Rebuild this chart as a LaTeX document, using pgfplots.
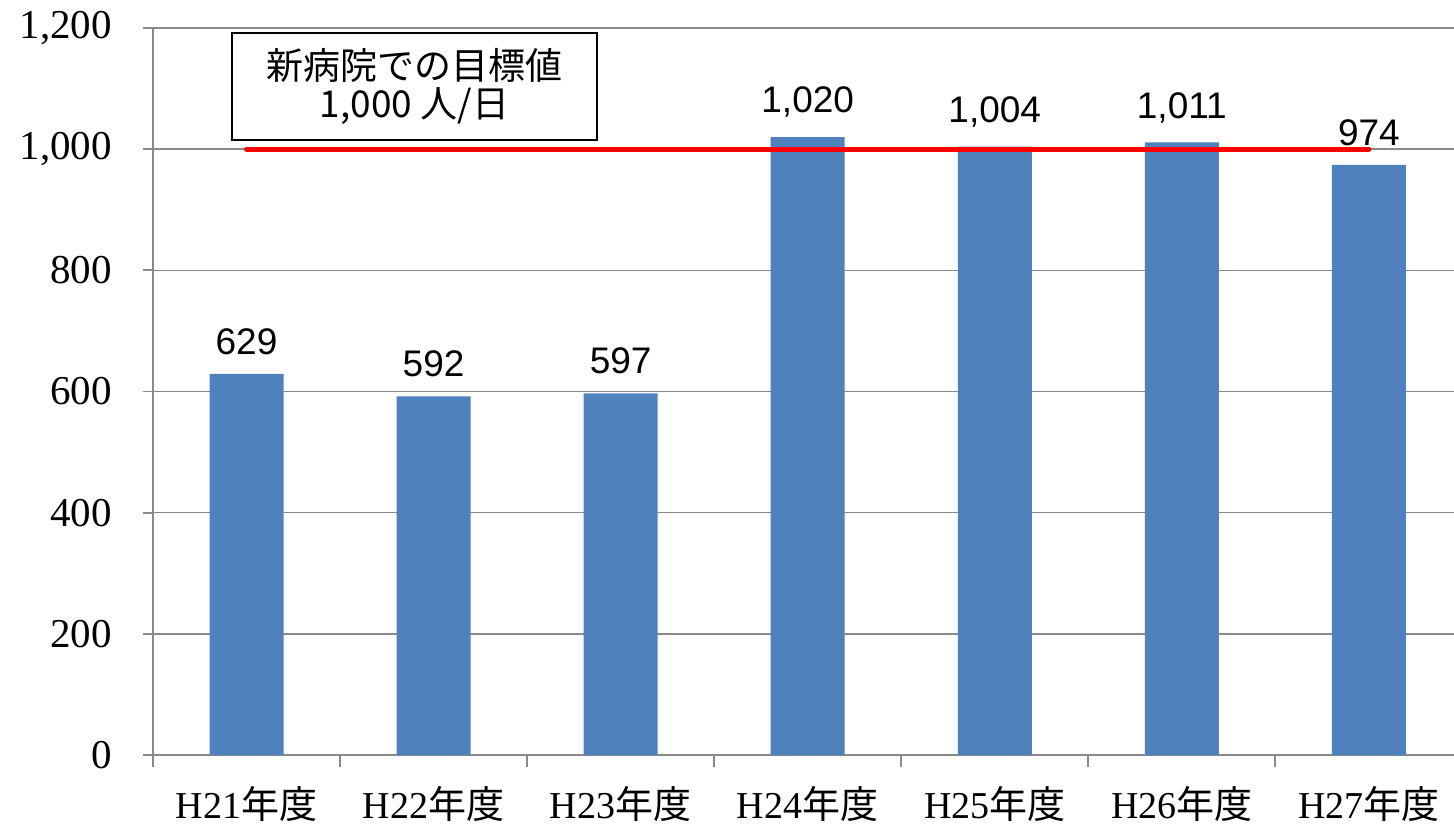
\documentclass[border=0pt]{standalone}
\usepackage{fontspec}
\setmainfont{Liberation Serif}
\setsansfont{Liberation Sans}
\newfontfamily\cjk{Noto Sans CJK JP}
\usepackage{pgfplots}
\pgfplotsset{compat=1.18}
\definecolor{barblue}{HTML}{4F81BD}
\definecolor{gridgray}{HTML}{898989}
\begin{document}
\begin{tikzpicture}
\begin{axis}[
  scale only axis, width=650.5pt, height=363.5pt,
  at={(0,0)}, anchor=south west,
  xmin=-0.5, xmax=6.455, ymin=0, ymax=1200,
  ytick={0,200,...,1200},
  xtick={0,...,6},
  xticklabels={H21{\cjk 年度},H22{\cjk 年度},H23{\cjk 年度},H24{\cjk 年度},H25{\cjk 年度},H26{\cjk 年度},H27{\cjk 年度}},
  minor xtick={-0.5,0.5,...,5.5},
  major x tick style={draw=none},
  tick align=outside,
  major tick length=5pt, minor tick length=6pt,
  every tick/.style={gridgray, line width=0.9pt},
  ymajorgrids, grid style={gridgray, line width=0.75pt},
  axis x line*=bottom, axis y line*=left,
  axis line style={gridgray, line width=0.9pt},
  /pgf/number format/1000 sep={,},
  /pgf/number format/assume math mode=true,
  yticklabel style={font=\fontsize{20.5}{22}\selectfont, xshift=-12pt},
  xticklabel style={font=\fontsize{19}{21}\selectfont, yshift=-7pt},
  clip=false
]
\addplot[ybar, bar width=37pt, fill=barblue, draw=none,
  nodes near coords,
  every node near coord/.append style={font=\sffamily\fontsize{18.5}{20}\selectfont, text=black, inner sep=0pt, yshift=9.5pt}]
  coordinates {(0,629) (1,592) (2,597) (3,1020) (4,1004) (5,1011) (6,974)};
\addplot[red, line width=2.5pt, line cap=round, mark=none] coordinates {(0,1000) (6,1000)};
\node[draw=black, line width=1pt, fill=white, minimum width=182.5pt, minimum height=53.5pt, align=center, font=\cjk\fontsize{18.5}{19}\selectfont] at (axis cs:0.898,1103) {新病院での目標値\\1,000 人/日};
\end{axis}
\pgfresetboundingbox
\path (-76.5pt,-34.5pt) rectangle (650.5pt,377.5pt);
\end{tikzpicture}
\end{document}
